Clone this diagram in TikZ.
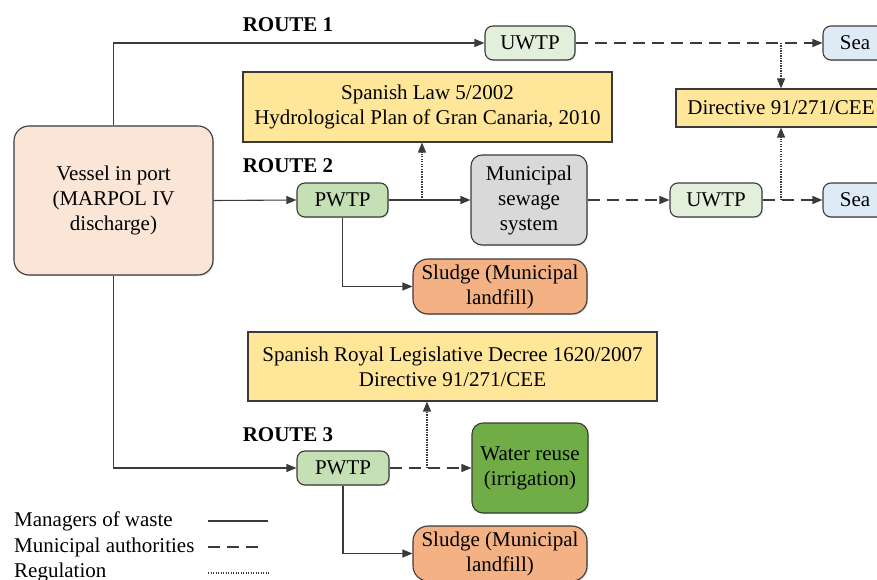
\documentclass[tikz,border=0pt]{standalone}
\usepackage{fontspec}
\setmainfont{Liberation Serif}
\usepackage{tikz}
\usetikzlibrary{arrows.meta,shadows}

\definecolor{edge}{HTML}{3A3A3A}
\definecolor{vesselfill}{HTML}{FBE5D6}
\definecolor{uwtpfill}{HTML}{E2EFDA}
\definecolor{pwtpfill}{HTML}{C5E0B4}
\definecolor{seafill}{HTML}{DEEBF7}
\definecolor{lawfill}{HTML}{FFE699}
\definecolor{sewerfill}{HTML}{D9D9D9}
\definecolor{sludgefill}{HTML}{F4B183}
\definecolor{reusefill}{HTML}{70AD47}

\tikzset{
  txt/.style={font=\fontsize{21}{25}\selectfont, align=center, inner sep=0pt},
  box/.style={txt, draw=edge, line width=1.1pt, rounded corners=8pt,
    drop shadow={shadow xshift=1.2pt, shadow yshift=-1.2pt, opacity=0.25}},
  lawbox/.style={box, rounded corners=0pt, fill=lawfill},
  routelabel/.style={font=\fontsize{21}{25}\selectfont\bfseries, inner sep=0pt},
  tip/.style={-{Triangle[length=10pt,width=8pt]}},
  manager/.style={draw=edge, line width=1.1pt, tip},
  authority/.style={draw=edge, line width=1.3pt, dash pattern=on 12pt off 7pt, tip},
  regulation/.style={draw=edge, line width=1.3pt, dash pattern=on 1.2pt off 1.3pt, tip},
}

\begin{document}
\begin{tikzpicture}[x=1pt, y=-1pt]
\useasboundingbox (0,0) rectangle (877,580);
%%%%% Boxes %%%%%
\node[box, fill=vesselfill, rounded corners=15pt, minimum width=199pt, minimum height=149pt] (vessel) at (113.5,200.5) {Vessel in port\\(MARPOL IV\\discharge)};
\node[box, fill=uwtpfill, minimum width=90pt, minimum height=34pt] (uwtpA) at (530,43) {UWTP};
\node[box, fill=seafill, minimum width=64pt, minimum height=34pt] (seaA) at (855,43) {Sea};
\node[lawbox, minimum width=210pt, minimum height=38pt] (directive) at (781,108) {Directive 91/271/CEE};
\node[lawbox, minimum width=369pt, minimum height=70pt] (law) at (427.5,107) {Spanish Law 5/2002\\Hydrological Plan of Gran Canaria, 2010};
\node[box, fill=pwtpfill, minimum width=91pt, minimum height=34pt] (pwtpB) at (342.5,200) {PWTP};
\node[box, fill=sewerfill, rounded corners=11pt, minimum width=116pt, minimum height=90pt] (sewer) at (529,200) {Municipal\\sewage\\system};
\node[box, fill=uwtpfill, minimum width=92pt, minimum height=34pt] (uwtpB) at (716,200) {UWTP};
\node[box, fill=seafill, minimum width=64pt, minimum height=34pt] (seaB) at (855,200) {Sea};
\node[box, fill=sludgefill, rounded corners=15pt, minimum width=174pt, minimum height=55pt] (sludgeB) at (500,286.5) {Sludge (Municipal\\landfill)};
\node[lawbox, minimum width=409pt, minimum height=69pt] (decree) at (452.5,366.5) {Spanish Royal Legislative Decree 1620/2007\\Directive 91/271/CEE};
\node[box, fill=pwtpfill, minimum width=92pt, minimum height=34pt] (pwtpC) at (343,468) {PWTP};
\node[box, fill=reusefill, rounded corners=11pt, minimum width=116pt, minimum height=90pt] (reuse) at (530,468) {Water reuse\\(irrigation)};
\node[box, fill=sludgefill, rounded corners=15pt, minimum width=174pt, minimum height=55pt] (sludgeC) at (500,553.5) {Sludge (Municipal\\landfill)};
%%%%% Route labels %%%%%
\node[routelabel] (routeA) at (288,25) {ROUTE 1};
\node[routelabel] (routeB) at (288,166) {ROUTE 2};
\node[routelabel] (routeC) at (288,435) {ROUTE 3};
%%%%% Route 1 %%%%%
\draw[manager] (vessel.north) |- (uwtpA.west);
\draw[authority] (uwtpA.east) -- (seaA.west);
\draw[regulation] (directive.north |- uwtpA) -- (directive.north);
%%%%% Route 2 %%%%%
\coordinate (lawtap) at (422,200);
\draw[manager] (vessel.east) -- (pwtpB.west);
\draw[manager] (pwtpB.east) -- (sewer.west);
\draw[manager] (pwtpB.south) |- (sludgeB.west);
\draw[regulation] (lawtap) -- (lawtap |- law.south);
\draw[authority] (sewer.east) -- (uwtpB.west);
\draw[authority] (uwtpB.east) -- (seaB.west);
\draw[regulation] (directive.south |- seaB.west) -- (directive.south);
%%%%% Route 3 %%%%%
\coordinate (decreetap) at (427,468);
\draw[manager] (vessel.south) |- (pwtpC.west);
\draw[authority] (pwtpC.east) -- (reuse.west);
\draw[regulation] (decreetap) -- (decreetap |- decree.south);
\draw[manager] (pwtpC.south) |- (sludgeC.west);
%%%%% Legend %%%%%
\node[txt, anchor=west] (legA) at (14,521) {Managers of waste};
\node[txt, anchor=west] (legB) at (14,547) {Municipal authorities};
\node[txt, anchor=west] (legC) at (14,572) {Regulation};
\coordinate (legAs) at (208,521); \coordinate (legAe) at (268,521);
\coordinate (legBs) at (208,547); \coordinate (legBe) at (264,547);
\coordinate (legCs) at (208,573); \coordinate (legCe) at (270,573);
\draw[manager, -] (legAs) -- (legAe);
\draw[authority, -] (legBs) -- (legBe);
\draw[regulation, -] (legCs) -- (legCe);
\end{tikzpicture}
\end{document}
